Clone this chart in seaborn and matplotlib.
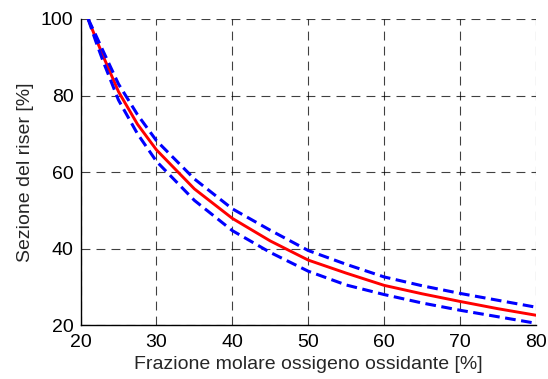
import numpy as np
import pandas as pd
import matplotlib
matplotlib.use("Agg")
import matplotlib.pyplot as plt
import seaborn as sns

# ============ DATA ============
frazione_o2 = [21, 22, 23, 25, 27.5, 30, 35, 40, 45, 50, 55, 60, 65, 70, 75, 80]
sezione_media = [100, 95.0, 90.2, 81.0, 72.5, 65.8, 55.6, 47.9, 42.0, 37.0, 33.6, 30.4, 28.2, 26.2, 24.3, 22.6]
sezione_sup = [100, 95.8, 91.5, 83.0, 75.0, 68.2, 58.2, 50.4, 44.8, 39.5, 35.9, 32.6, 30.3, 28.3, 26.5, 24.7]
sezione_inf = [100, 94.2, 88.8, 78.8, 70.0, 62.8, 52.6, 44.7, 39.0, 34.1, 30.5, 28.0, 25.8, 23.9, 22.2, 20.5]

x_ticks = [20, 30, 40, 50, 60, 70, 80]
y_ticks = [20, 40, 60, 80, 100]

df = pd.DataFrame({
    "x": frazione_o2 * 3,
    "y": sezione_media + sezione_sup + sezione_inf,
    "serie": ["media"] * len(frazione_o2) + ["sup"] * len(frazione_o2) + ["inf"] * len(frazione_o2),
})

# ============ STYLE ============
sns.set_style("white")
plt.rcParams["font.family"] = ["Liberation Sans", "DejaVu Sans"]

fig = plt.figure(figsize=(5.48, 3.79), dpi=100)
ax = fig.add_axes([0.147, 0.142, 0.831, 0.808])

# grid first so curves sit on top
ax.set_axisbelow(True)
ax.grid(True, color="black", linestyle=(0, (8, 5.5)), linewidth=0.8, alpha=0.75)

sns.lineplot(data=df[df["serie"] == "media"], x="x", y="y", ax=ax,
             color="red", linewidth=2.1, zorder=3)
for s in ["sup", "inf"]:
    sns.lineplot(data=df[df["serie"] == s], x="x", y="y", ax=ax,
                 color="blue", linewidth=2.2, linestyle=(0, (3.5, 1.8)), zorder=3)

ax.set_xlim(20, 80)
ax.set_ylim(20, 100)
ax.set_xticks(x_ticks)
ax.set_yticks(y_ticks)
ax.tick_params(direction="in", length=4, width=0.8, labelsize=14, colors="black")
ax.tick_params(axis="x", pad=6)
ax.tick_params(axis="y", pad=5)

ax.set_xlabel("Frazione molare ossigeno ossidante [%]", fontsize=14, labelpad=4)
ax.set_ylabel("Sezione del riser [%]", fontsize=14, labelpad=5)

for side in ["top", "right"]:
    ax.spines[side].set_visible(False)
for side in ["left", "bottom"]:
    ax.spines[side].set_color("black")
    ax.spines[side].set_linewidth(1.0)

fig.savefig("out.png", dpi=100)
